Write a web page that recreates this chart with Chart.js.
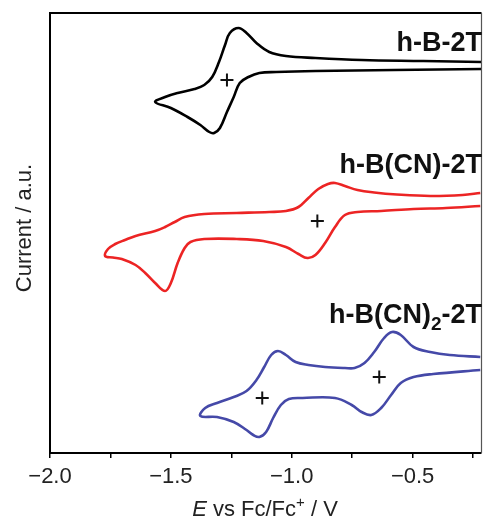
<!DOCTYPE html>
<html>
<head>
<meta charset="utf-8">
<script src="https://cdn.jsdelivr.net/npm/chart.js@4.4.1/dist/chart.umd.min.js"></script>
<style>
  html, body { margin: 0; padding: 0; background: #fff; }
  #wrap { width: 490px; height: 520px; }
</style>
</head>
<body>
<div id="wrap"><canvas id="chart" width="490" height="520"></canvas></div>
<script>
// cyclic voltammograms, potential in V vs Fc/Fc+, current in arbitrary units
const hB2T_E = [-0.215, -0.577, -0.902, -1.065, -1.134, -1.179, -1.215, -1.240, -1.268, -1.297, -1.321, -1.341, -1.378, -1.431, -1.500, -1.565,
    -1.524, -1.472, -1.402, -1.362, -1.329, -1.301, -1.276, -1.256, -1.220, -1.187, -1.146, -1.093, -1.024, -0.902, -0.711, -0.455, -0.215];
const hB2T_I = [384, 383, 382, 381, 380, 376, 370, 356, 341, 325, 320, 321, 328, 336, 345, 351,
    356, 360, 364, 368, 376, 391, 408, 420, 425, 420, 410, 401, 397, 395, 393, 392, 391];

const hBCN2T_E = [-0.220, -0.362, -0.496, -0.630, -0.728, -0.780, -0.821, -0.862, -0.902, -0.935, -0.972, -1.024, -1.118, -1.228, -1.362, -1.419,
    -1.443, -1.472, -1.500, -1.524, -1.565, -1.606, -1.646, -1.703, -1.740, -1.772,
    -1.760, -1.730, -1.690, -1.646, -1.565, -1.524, -1.484, -1.443, -1.362, -1.228, -1.093, -1.024, -0.972, -0.931, -0.890, -0.850,
    -0.821, -0.780, -0.728, -0.659, -0.565, -0.427, -0.293, -0.220];
const hBCN2T_I = [247, 245, 244, 242, 241, 238, 226, 210, 198, 195, 199, 206, 212, 214, 214, 211,
    205, 190, 170, 162, 170, 180, 188, 194, 195.5, 197,
    204, 209, 213, 217, 222, 226, 231, 236, 239, 240, 241, 242, 246, 255, 264, 269,
    270, 267, 263, 260.5, 258.5, 257, 258, 260];

const hBCN22T_E = [-0.220, -0.415, -0.496, -0.549, -0.589, -0.630, -0.671, -0.711, -0.752, -0.821, -0.955, -1.012, -1.045, -1.077, -1.106, -1.134,
    -1.159, -1.187, -1.240, -1.309, -1.378,
    -1.358, -1.309, -1.240, -1.187, -1.146, -1.114, -1.085, -1.057, -1.024, -0.984, -0.931, -0.862, -0.780, -0.740, -0.699,
    -0.659, -0.618, -0.585, -0.549, -0.496, -0.427, -0.346, -0.220];
const hBCN22T_I = [83, 79, 76, 70, 58, 45, 38, 41, 48, 55, 55, 54, 48, 35, 21, 16,
    18, 23, 31, 36, 37,
    45, 50, 56, 62, 73, 86, 98, 102, 98, 91, 88, 86, 85, 85, 90,
    101, 115, 121, 118, 106, 101, 98, 96];

// half-wave potentials marked with "+"
const halfE = [-1.268, -0.894, -1.122, -0.638];
const halfI = [373, 232, 55, 76];

const majorTicks = [-2.0, -1.5, -1.0, -0.5];
const FONT = '"Liberation Sans", Arial, Helvetica, sans-serif';

function pts(xs, ys) {
    return xs.map((x, i) => ({ x: x, y: ys[i] }));
}

function curve(xs, ys, color) {
    return {
        data: pts(xs, ys),
        showLine: true,
        borderColor: color,
        borderWidth: 2.6,
        pointRadius: 0,
        tension: 0.38,
        fill: false
    };
}

// frame + labels drawn on top of the chart
const decor = {
    id: 'decor',
    afterDatasetsDraw(chart) {
        const { ctx, chartArea: a } = chart;
        ctx.save();
        ctx.strokeStyle = '#000';
        ctx.lineWidth = 2;
        ctx.beginPath();
        ctx.moveTo(a.left, a.bottom);
        ctx.lineTo(a.left, a.top);
        ctx.lineTo(a.right, a.top);
        ctx.moveTo(a.left - 1, a.bottom);
        ctx.lineTo(a.right, a.bottom);
        ctx.stroke();
        ctx.lineWidth = 1.2;
        ctx.strokeStyle = '#555';
        ctx.beginPath();
        ctx.moveTo(a.right, a.top);
        ctx.lineTo(a.right, a.bottom);
        ctx.stroke();

        // compound names
        ctx.fillStyle = '#111';
        ctx.textBaseline = 'alphabetic';
        ctx.textAlign = 'right';
        ctx.font = 'bold 27px ' + FONT;
        ctx.fillText('h-B-2T', 482, 51);
        ctx.fillText('h-B(CN)-2T', 482, 173);

        // h-B(CN)2-2T with subscript
        ctx.textAlign = 'left';
        const big = 'bold 27px ' + FONT, small = 'bold 19px ' + FONT;
        ctx.font = big;
        const w1 = ctx.measureText('h-B(CN)').width, w3 = ctx.measureText('-2T').width;
        ctx.font = small;
        const w2 = ctx.measureText('2').width;
        let x = 482 - w1 - w2 - w3;
        ctx.font = big;
        ctx.fillText('h-B(CN)', x, 323);
        ctx.font = small;
        ctx.fillText('2', x + w1, 330);
        ctx.font = big;
        ctx.fillText('-2T', x + w1 + w2, 323);

        // x title: E vs Fc/Fc+ / V
        ctx.fillStyle = '#222';
        const reg = '22px ' + FONT, ital = 'italic 22px ' + FONT, sup = '15px ' + FONT;
        ctx.font = ital; const t1 = ctx.measureText('E').width;
        ctx.font = reg; const t2 = ctx.measureText(' vs Fc/Fc').width;
        ctx.font = sup; const t3 = ctx.measureText('+').width;
        ctx.font = reg; const t4 = ctx.measureText(' / V').width;
        let tx = 265 - (t1 + t2 + t3 + t4) / 2;
        const ty = 516;
        ctx.font = ital; ctx.fillText('E', tx, ty); tx += t1;
        ctx.font = reg; ctx.fillText(' vs Fc/Fc', tx, ty); tx += t2;
        ctx.font = sup; ctx.fillText('+', tx, ty - 9); tx += t3;
        ctx.font = reg; ctx.fillText(' / V', tx, ty);

        // y title
        ctx.save();
        ctx.translate(31, 228);
        ctx.rotate(-Math.PI / 2);
        ctx.textAlign = 'center';
        ctx.font = reg;
        ctx.fillText('Current / a.u.', 0, 0);
        ctx.restore();
        ctx.restore();
    }
};

document.addEventListener('DOMContentLoaded', () => {
    const ctx = document.getElementById('chart').getContext('2d');
    new Chart(ctx, {
        type: 'scatter',
        data: {
            datasets: [
                curve(hB2T_E, hB2T_I, '#000000'),
                curve(hBCN2T_E, hBCN2T_I, '#ec2424'),
                curve(hBCN22T_E, hBCN22T_I, '#4549a8'),
                {
                    data: pts(halfE, halfI),
                    showLine: false,
                    pointStyle: 'cross',
                    pointRadius: 6.5,
                    borderColor: '#111',
                    borderWidth: 2
                }
            ]
        },
        options: {
            responsive: false,
            animation: false,
            layout: { padding: { top: 13, right: 1, left: 0, bottom: 0 } },
            plugins: { legend: { display: false }, tooltip: { enabled: false } },
            scales: {
                x: {
                    type: 'linear',
                    min: -2,
                    max: -0.215,
                    afterFit: s => { s.height = 67; },
                    border: { display: false },
                    grid: { drawOnChartArea: false, drawTicks: true, tickLength: 5, color: '#000', lineWidth: 1.5 },
                    ticks: {
                        stepSize: 0.25,
                        includeBounds: false,
                        autoSkip: false,
                        maxRotation: 0,
                        padding: 6,
                        color: '#222',
                        font: { family: FONT, size: 22 },
                        callback: v => majorTicks.some(m => Math.abs(m - v) < 1e-6) ? ('\u2212' + Math.abs(v).toFixed(1)) : ''
                    }
                },
                y: {
                    min: 0,
                    max: 440,
                    afterFit: s => { s.width = 50; },
                    border: { display: false },
                    grid: { display: false },
                    ticks: { display: false }
                }
            }
        },
        plugins: [decor]
    });
});
</script>
</body>
</html>
